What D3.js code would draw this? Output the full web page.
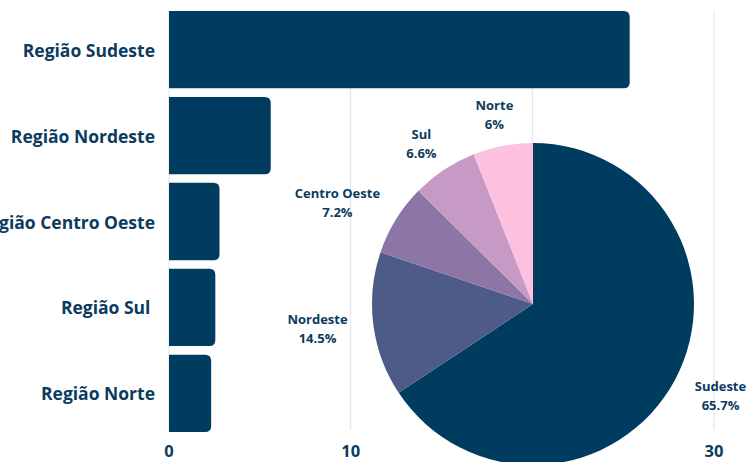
<!DOCTYPE html>
<html><head><meta charset="utf-8">
<script src="https://cdn.jsdelivr.net/npm/d3@7"></script>
<style>
html,body{margin:0;padding:0;background:#fff;}
svg{display:block;font-family:"Open Sans",sans-serif;}
</style></head>
<body>
<svg id="c" width="756" height="462"></svg>
<script>
const categories = ["Região Sudeste","Região Nordeste","Região Centro Oeste","Região Sul ","Região Norte"];
const barValues = [25.36, 5.6, 2.78, 2.55, 2.32];
const xTicks = [0, 10, 20, 30];
const pieLabels = ["Sudeste","Nordeste","Centro Oeste","Sul","Norte"];
const piePercents = [65.7, 14.5, 7.2, 6.6, 6.0];
const pieColors = ["#003c5f","#4e5a88","#8b76a6","#c69ac4","#fdc0df"];

const W = 756, H = 462;
const svg = d3.select("#c");
const textColor = "#0b3b5e";
const barColor = "#003c5f";

const x = d3.scaleLinear().domain([0,30]).range([169,714]);
const y = d3.scaleBand().domain(categories).range([11,432]).paddingInner(0.1).paddingOuter(0);
const plotBottom = 430;

// gridlines
svg.append("g").selectAll("line").data(xTicks).join("line")
  .attr("x1", d=>x(d)).attr("x2", d=>x(d))
  .attr("y1", 11).attr("y2", plotBottom)
  .attr("stroke", "#dfe4eb").attr("stroke-width", 1);

// bars with rounded right corners
const r = 6;
svg.append("g").selectAll("path").data(barValues).join("path")
  .attr("fill", barColor)
  .attr("d", (d,i)=>{
    const x0 = x(0), x1 = x(d), y0 = y(categories[i]), h = y.bandwidth();
    const rr = Math.min(r, (x1-x0));
    return `M${x0},${y0}H${x1-rr}Q${x1},${y0} ${x1},${y0+rr}V${y0+h-rr}Q${x1},${y0+h} ${x1-rr},${y0+h}H${x0}Z`;
  });

// y labels
svg.append("g").selectAll("text").data(categories).join("text")
  .attr("x", 155).attr("y", d=>y(d)+y.bandwidth()/2)
  .attr("text-anchor","end").attr("dominant-baseline","central")
  .attr("font-size", 17.5).attr("font-weight", 700).attr("fill", textColor)
  .attr("xml:space","preserve")
  .text(d=>d);

// x tick labels
svg.append("g").selectAll("text").data(xTicks).join("text")
  .attr("x", d=>x(d)).attr("y", 450)
  .attr("text-anchor","middle").attr("dominant-baseline","central")
  .attr("font-size", 16.5).attr("font-weight", 700).attr("fill", textColor)
  .text(d=>d);

// pie
const cx = 533, cy = 304, R = 161;
const pie = d3.pie().sort(null).value(d=>d)(piePercents);
const arc = d3.arc().innerRadius(0).outerRadius(R);
const pg = svg.append("g").attr("transform", `translate(${cx},${cy})`);
pg.selectAll("path").data(pie).join("path")
  .attr("d", arc).attr("fill", (d,i)=>pieColors[i]);

// pie labels
const labelR = 187;
const lg = pg.append("g");
pie.forEach((p,i)=>{
  const a = (p.startAngle + p.endAngle)/2;
  const t = lg.append("text")
    .attr("font-size", 13).attr("font-weight", 700).attr("fill", textColor)
    .attr("text-anchor","middle");
  t.append("tspan").attr("x",0).attr("dy","0").text(pieLabels[i]);
  t.append("tspan").attr("x",0).attr("dy","1.45em").text(piePercents[i] + "%");
  const bb = t.node().getBBox();
  const lx = labelR*Math.sin(a) + (bb.width/2)*Math.sin(a);
  const ly = -labelR*Math.cos(a) - (bb.height/2)*Math.cos(a)*0.3;
  t.attr("transform", `translate(${lx},${ly - (bb.y + bb.height/2)})`);
});
</script>
</body></html>
